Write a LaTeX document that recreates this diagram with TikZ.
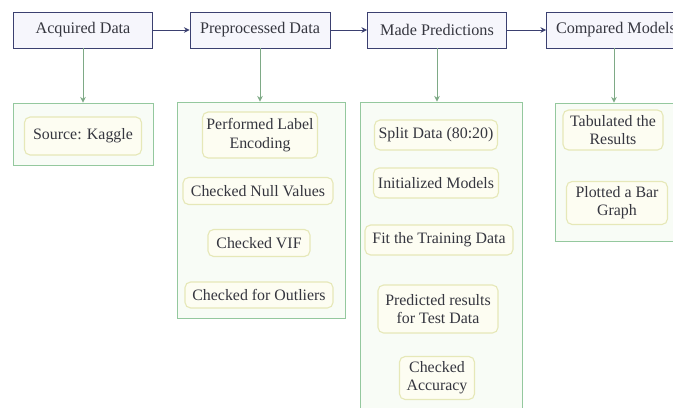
\documentclass[tikz,border=0pt]{standalone}
\usepackage{fontspec}
\setmainfont{Liberation Serif}
\usepackage{tikz}
\usetikzlibrary{arrows.meta}

\definecolor{navyline}{HTML}{3B4070}
\definecolor{navyfill}{HTML}{F6F6FC}
\definecolor{grpline}{HTML}{94C89E}
\definecolor{grpfill}{HTML}{F8FCF6}
\definecolor{stepline}{HTML}{E6E8B8}
\definecolor{stepfill}{HTML}{FDFDF2}
\definecolor{txt}{HTML}{35363F}

\tikzset{
  topbox/.style={draw=navyline, fill=navyfill, semithick, text=txt,
    font=\fontsize{11.5}{13}\selectfont, inner sep=0pt},
  groupbox/.style={draw=grpline, fill=grpfill, semithick, inner sep=0pt},
  stepbox/.style={draw=stepline, fill=stepfill, rounded corners=4pt, thick,
    text=txt, align=center, font=\fontsize{11.3}{13}\selectfont, inner sep=0pt},
  flowarrow/.style={draw=navyline, semithick, -{Stealth[length=4pt,width=4pt]}},
  downarrow/.style={draw=grpline!85!black, semithick, -{Stealth[length=4pt,width=4pt]}}
}

\begin{document}
\begin{tikzpicture}[x=0.025cm, y=-0.025cm]
    \clip (0,0) rectangle (673,408);
    \fill[white] (0,0) rectangle (673,408);

    % Draw the four stages along the top
    \node[topbox, minimum width=3.475cm, minimum height=0.9cm] (acq) at (83,30) {Acquired Data};
    \node[topbox, minimum width=3.5cm, minimum height=0.9cm] (pre) at (260,30) {Preprocessed Data};
    \node[topbox, minimum width=3.475cm, minimum height=0.9cm] (pred) at (437,30) {Made Predictions};
    \node[topbox, minimum width=3.475cm, minimum height=0.9cm] (cmp) at (616,30) {Compared Models};

    \draw[flowarrow] (acq) -- (pre);
    \draw[flowarrow] (pre) -- (pred);
    \draw[flowarrow] (pred) -- (cmp);

    % Draw the group under each stage
    \node[groupbox, minimum width=3.5cm, minimum height=1.55cm] (acqgrp) at (83,134) {};
    \node[groupbox, minimum width=4.2cm, minimum height=5.4cm] (pregrp) at (261,210) {};
    \node[groupbox, minimum width=4.05cm, minimum height=7.95cm] (predgrp) at (441,261) {};
    \node[groupbox, minimum width=2.95cm, minimum height=3.45cm] (cmpgrp) at (614,172) {};

    \draw[downarrow] (acq.south) -- (acq.south |- acqgrp.north);
    \draw[downarrow] (pre.south) -- (pre.south |- pregrp.north);
    \draw[downarrow] (pred.south) -- (pred.south |- predgrp.north);
    \draw[downarrow] (cmp.south -| cmpgrp.north) -- (cmpgrp.north);

    % Steps of the first two stages
    \node[stepbox, minimum width=2.925cm, minimum height=0.95cm] (src) at (83,136) {Source: Kaggle};

    \node[stepbox, minimum width=2.875cm, minimum height=1.15cm] (enc) at (260,135) {Performed Label\\Encoding};
    \node[stepbox, minimum width=3.75cm, minimum height=0.675cm] (nulls) at (258,191) {Checked Null Values};
    \node[stepbox, minimum width=2.55cm, minimum height=0.675cm] (vif) at (259,243) {Checked VIF};
    \node[stepbox, minimum width=3.7cm, minimum height=0.65cm] (outl) at (259,295) {Checked for Outliers};

    % Steps of the prediction stage
    \node[stepbox, minimum width=3.075cm, minimum height=0.75cm] (split) at (436,135) {Split Data (80:20)};
    \node[stepbox, minimum width=3.125cm, minimum height=0.75cm] (init) at (436,183) {Initialized Models};
    \node[stepbox, minimum width=3.7cm, minimum height=0.75cm] (fit) at (439,240) {Fit the Training Data};
    \node[stepbox, minimum width=3cm, minimum height=1.2cm] (test) at (438,309) {Predicted results\\for Test Data};
    \node[stepbox, minimum width=1.875cm, minimum height=1.075cm] (acc) at (437,378) {Checked\\Accuracy};

    % Steps of the comparison stage
    \node[stepbox, minimum width=2.5cm, minimum height=1cm] (tab) at (613,130) {Tabulated the\\Results};
    \node[stepbox, minimum width=2.525cm, minimum height=1.075cm] (bar) at (617,203) {Plotted a Bar\\Graph};
\end{tikzpicture}
\end{document}
